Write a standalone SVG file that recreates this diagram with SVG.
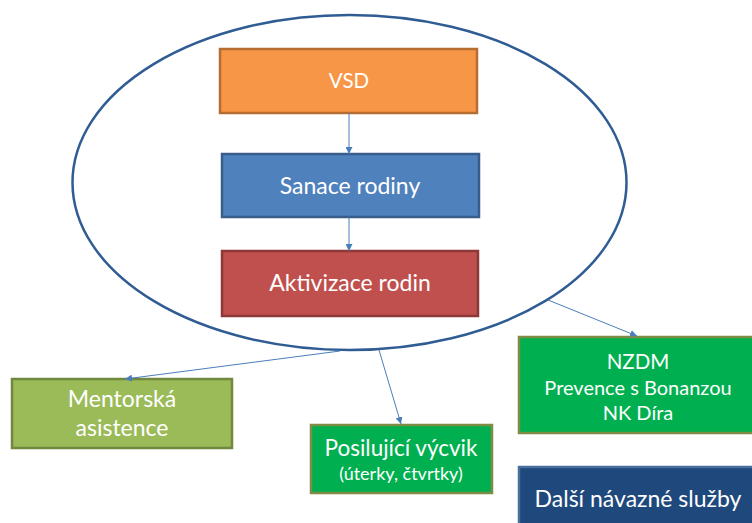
<svg xmlns="http://www.w3.org/2000/svg" width="752" height="523" viewBox="0 0 752 523">
<defs>
<marker id="ah" viewBox="0 0 10 10" refX="10" refY="5" markerWidth="7" markerHeight="7" markerUnits="userSpaceOnUse" orient="auto">
<path d="M0,0 L10,5 L0,10 z" fill="#4A7EBB"/>
</marker>
</defs>
<style>
text{font-family:Lato,"Open Sans","Liberation Sans",sans-serif;fill:#fff;text-anchor:middle}
.box{stroke-width:2.5}
.t23{font-size:23px}
.t22{font-size:22.5px}
.t21{font-size:20.5px}
.t20{font-size:20px}
.t18{font-size:18px}
.c{fill:none;stroke:#4A7EBB;stroke-width:1;marker-end:url(#ah)}
</style>
<rect width="752" height="523" fill="#fff"/>
<g id="ellipse">
<ellipse cx="349.5" cy="182.5" rx="277" ry="167.5" fill="none" stroke="#2F5C93" stroke-width="2.5"/>
</g>
<g id="vsd">
<rect class="box" x="220" y="49" width="257" height="64" fill="#F79646" stroke="#B66D31"/>
<text class="t21" x="349" y="88">VSD</text>
</g>
<g id="sanace">
<rect class="box" x="222" y="154" width="257" height="63" fill="#4F81BD" stroke="#385D8A"/>
<text class="t23" x="350" y="194">Sanace rodiny</text>
</g>
<g id="aktivizace">
<rect class="box" x="222" y="251" width="256" height="65" fill="#C0504D" stroke="#8C3836"/>
<text class="t23" x="350" y="291">Aktivizace rodin</text>
</g>
<g id="mentorska">
<rect class="box" x="12" y="379" width="220" height="69" fill="#9BBB59" stroke="#71893F"/>
<text class="t23" x="122" y="407">Mentorská</text>
<text class="t23" x="122" y="436">asistence</text>
</g>
<g id="posilujici">
<rect class="box" x="311" y="425" width="181" height="68" fill="#00B050" stroke="#7F8C44"/>
<text class="t22" x="401" y="456">Posilující výcvik</text>
<text class="t18" x="401" y="480">(úterky, čtvrtky)</text>
</g>
<g id="nzdm">
<rect class="box" x="519" y="337" width="240" height="96" fill="#00B050" stroke="#7F8C44"/>
<text class="t21" x="638" y="369">NZDM</text>
<text class="t20" x="638" y="395">Prevence s Bonanzou</text>
<text class="t20" x="638" y="420">NK Díra</text>
</g>
<g id="dalsi">
<rect class="box" x="519" y="467" width="240" height="70" fill="#1F497D" stroke="#4A6E9C"/>
<text class="t23" x="638" y="507">Další návazné služby</text>
</g>
<g id="connectors">
<path class="c" d="M349,113 L349,154"/>
<path class="c" d="M349,217 L349,251"/>
<path class="c" d="M340,351 L125,379"/>
<path class="c" d="M379,350 L401,424"/>
<path class="c" d="M548,300 L637,336"/>
</g>
</svg>
